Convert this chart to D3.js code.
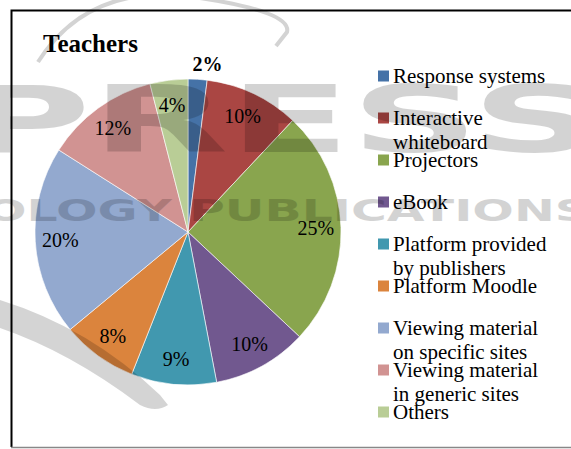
<!DOCTYPE html>
<html>
<head>
<meta charset="utf-8">
<script src="https://cdn.jsdelivr.net/npm/d3@7"></script>
<style>
  body { margin: 0; background: #fff; }
  svg { display: block; }
</style>
</head>
<body>
<div id="chart"></div>
<script>
// data
const categories = ["Response systems", "Interactive whiteboard", "Projectors", "eBook",
  "Platform provided by publishers", "Platform Moodle", "Viewing material on specific sites",
  "Viewing material in generic sites", "Others"];
const legendLines = [["Response systems"], ["Interactive", "whiteboard"], ["Projectors"], ["eBook"],
  ["Platform provided", "by publishers"], ["Platform Moodle"], ["Viewing material", "on specific sites"],
  ["Viewing material", "in generic sites"], ["Others"]];
const values = [2, 10, 25, 10, 9, 8, 20, 12, 4];
const title = "Teachers";

const colors = ["#4572A7", "#AA4643", "#89A54E", "#71588F", "#4198AF", "#DB843D", "#93A9CF", "#D19392", "#B9CD96"];

const width = 571, height = 449;
const cx = 188, cy = 232, radius = 153;
const serif = "'Liberation Serif', 'Times New Roman', serif";

const svg = d3.select("#chart").append("svg")
  .attr("width", width)
  .attr("height", height);

// frame (right side runs off the picture)
svg.append("path")
  .attr("d", "M " + (width + 5) + " 10.5 H 11.5 V 447")
  .attr("fill", "none").attr("stroke", "#000").attr("stroke-width", 2);
svg.append("line")
  .attr("x1", 11).attr("x2", width).attr("y1", 447.5).attr("y2", 447.5)
  .attr("stroke", "#888").attr("stroke-width", 1.5);

svg.append("text")
  .attr("x", 43).attr("y", 52)
  .attr("font-family", serif)
  .attr("font-weight", "bold").attr("font-size", 25)
  .text(title);

const color = d3.scaleOrdinal().domain(categories).range(colors);

const pie = d3.pie().sort(null).value(d => d.value);
const arcs = pie(categories.map((c, i) => ({ name: c, value: values[i] })));
const arc = d3.arc().innerRadius(0).outerRadius(radius);
const labelArc = d3.arc().innerRadius(128).outerRadius(128);
const outArc = d3.arc().innerRadius(168).outerRadius(168);

const g = svg.append("g").attr("transform", "translate(" + cx + "," + cy + ")");

g.selectAll("path.slice")
  .data(arcs)
  .enter().append("path")
  .attr("class", "slice")
  .attr("d", arc)
  .attr("fill", d => color(d.data.name))
  .attr("stroke", "#fff")
  .attr("stroke-width", 0.6);

// small slices get their label outside, in bold
g.selectAll("text.pct")
  .data(arcs)
  .enter().append("text")
  .attr("class", "pct")
  .attr("transform", d => {
    const p = d.data.value < 3 ? outArc.centroid(d) : labelArc.centroid(d);
    if (d.data.value < 3) p[0] += 9;
    return "translate(" + p + ")";
  })
  .attr("dy", "0.35em")
  .attr("text-anchor", "middle")
  .attr("font-family", serif)
  .attr("font-size", 20)
  .attr("font-weight", d => d.data.value < 3 ? "bold" : "normal")
  .text(d => d.data.value + "%");

// legend
const legend = svg.append("g").attr("transform", "translate(378,76)");
const item = legend.selectAll("g")
  .data(categories)
  .enter().append("g")
  .attr("transform", (d, i) => "translate(0," + (i * 42) + ")");
item.append("rect")
  .attr("x", 0).attr("y", -5.5)
  .attr("width", 11).attr("height", 11)
  .attr("fill", d => color(d));
item.append("text")
  .attr("x", 15).attr("y", 7)
  .attr("font-family", serif)
  .attr("font-size", 21)
  .selectAll("tspan")
  .data((d, i) => legendLines[i])
  .enter().append("tspan")
  .attr("x", 15)
  .attr("dy", (d, j) => j === 0 ? 0 : 24)
  .text(d => d);

// publisher watermark laid over the figure
const wm = svg.append("g").attr("fill", "#000").attr("opacity", 0.17).attr("pointer-events", "none");
wm.append("text")
  .attr("x", -40).attr("y", 152)
  .attr("font-family", "'DejaVu Sans', sans-serif").attr("font-weight", "bold")
  .attr("font-size", 92)
  .attr("textLength", 640).attr("lengthAdjust", "spacingAndGlyphs")
  .text("PRESS");
wm.append("text")
  .attr("x", -15).attr("y", 221)
  .attr("font-family", "'DejaVu Sans', sans-serif").attr("font-weight", "bold")
  .attr("font-size", 31)
  .attr("textLength", 605).attr("lengthAdjust", "spacingAndGlyphs")
  .text("OLOGY PUBLICATIONS");
wm.append("path")
  .attr("d", "M 38 62 Q 90 -20 200 -2 Q 292 12 287 32 L 276 46")
  .attr("fill", "none").attr("stroke", "#000").attr("stroke-width", 4);
wm.append("path")
  .attr("d", "M 0 300 Q 90 328 160 395 L 168 405 Q 156 413 140 405 Q 70 352 0 328 Z");
</script>
</body>
</html>
